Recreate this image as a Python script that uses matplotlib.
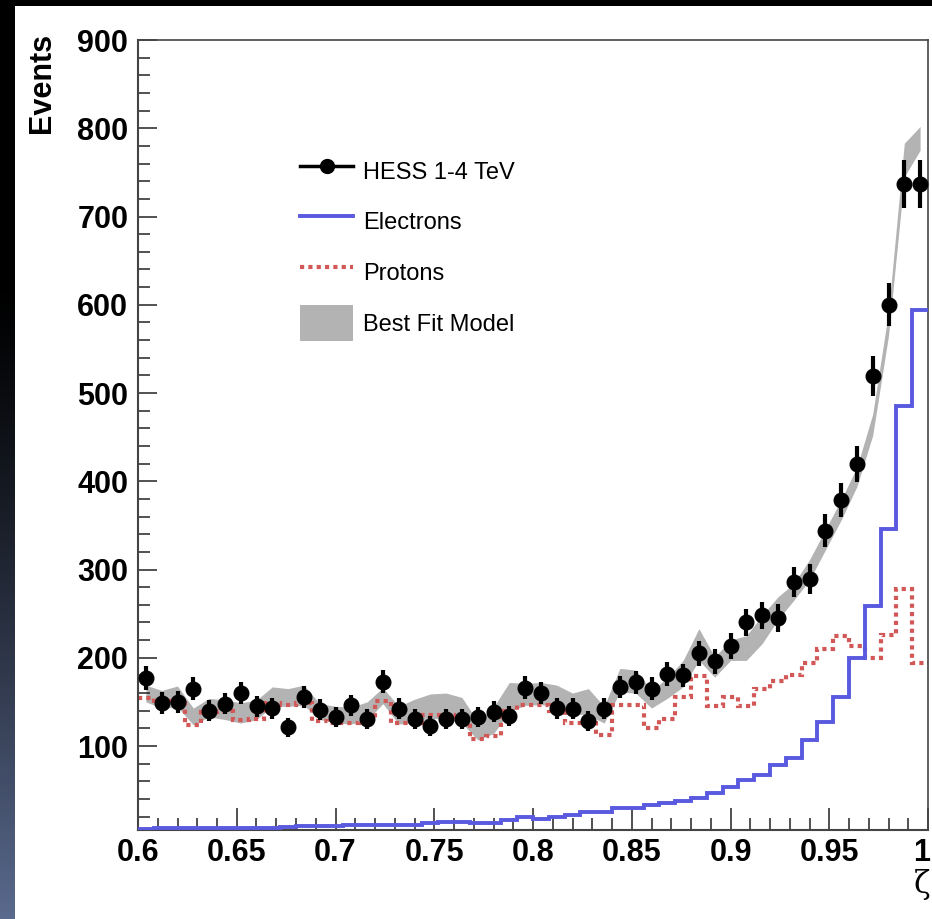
import numpy as np
import matplotlib
matplotlib.use('Agg')
import matplotlib.pyplot as plt
import matplotlib.transforms as mtransforms
from matplotlib.lines import Line2D
from matplotlib.patches import Patch
from matplotlib.ticker import MultipleLocator, FuncFormatter

# 50 bins in zeta between 0.6 and 1.0
zeta_edges = np.round(0.6 + 0.008 * np.arange(51), 3)
zeta_centers = (zeta_edges[:-1] + zeta_edges[1:]) / 2

hess = [177, 149, 150, 165, 140, 148, 160, 145, 143, 121,
        156, 141, 133, 146, 131, 173, 142, 131, 123, 131,
        131, 133, 139, 134, 166, 160, 143, 142, 128, 142,
        167, 172, 165, 182, 180, 205, 196, 213, 240, 248,
        245, 286, 289, 344, 379, 420, 519, 600, 737, 737]
hess_err = [13.3, 12.2, 12.2, 12.8, 11.8, 12.2, 12.6, 12.0, 11.9, 11.0,
            12.5, 11.9, 11.5, 12.1, 11.4, 13.1, 11.9, 11.4, 11.1, 11.5,
            11.4, 11.5, 11.8, 11.6, 12.9, 12.6, 11.9, 11.9, 11.3, 11.9,
            12.9, 13.1, 12.8, 13.5, 13.4, 14.3, 14.0, 14.6, 15.5, 15.7,
            15.6, 16.9, 17.0, 18.5, 19.5, 20.5, 22.8, 24.5, 27.1, 27.1]

electrons = [5.5, 7.3, 7.3, 7.3, 7.3, 7.3, 7.3, 7.3, 7.3, 8.0,
             9.2, 9.2, 9.2, 10.7, 10.7, 10.7, 10.7, 10.7, 13.0, 14.4,
             14.4, 12.2, 12.2, 16.3, 19.0, 17.8, 19.7, 21.9, 25.3, 25.3,
             29.8, 29.8, 32.8, 35.8, 37.3, 40.7, 47.0, 53.5, 61.5, 67.0,
             78.5, 86.0, 106.8, 126.8, 155.8, 199.2, 259.0, 345.7, 485.0, 594.0]

protons = [154, 146, 151, 124, 138, 140, 130, 131, 149, 147,
           149, 128, 126, 126, 129, 151, 126, 126, 135, 135,
           130, 108, 111, 140, 147, 146, 140, 126, 126, 112,
           146, 146, 120, 131, 156, 179, 145, 155, 145, 165,
           174, 180, 194, 210, 225, 213, 200, 226, 278, 194]

fit_lo = [150, 143, 144, 124, 133, 130, 126, 130, 145, 145,
          146, 130, 126, 125, 129, 148, 125, 126, 131, 131,
          126, 107, 114, 139, 146, 147, 144, 137, 135, 126,
          161, 160, 143, 154, 167, 197, 178, 197, 197, 216,
          243, 265, 288, 322, 356, 394, 452, 565, 745, 775]
fit_hi = [169, 163, 168, 143, 154, 152, 149, 152, 167, 165,
          169, 148, 145, 144, 150, 166, 145, 153, 159, 160,
          155, 128, 144, 172, 171, 172, 169, 160, 165, 145,
          188, 186, 163, 177, 197, 233, 201, 220, 225, 248,
          269, 284, 311, 345, 379, 416, 476, 592, 783, 802]

labels = ['HESS 1-4 TeV', 'Electrons', 'Protons', 'Best Fit Model']

blue = '#5a5ae0'
red = '#d25858'
grey = '#b3b3b3'
font = 'Liberation Sans'

fig = plt.figure(figsize=(9.32, 9.19), dpi=100)
fig.patch.set_facecolor('white')

# dark border strips of the slide
strip = fig.add_axes([0, 0, 15 / 932, 1])
grad = np.clip((np.linspace(0, 1, 256) - 0.3) / 0.7, 0, 1) ** 1.3
rgb = np.array([0x5a, 0x6a, 0x8e]) / 255.0
img = grad[:, None, None] * rgb[None, None, :]
strip.imshow(img, aspect='auto', extent=[0, 1, 0, 1])
strip.axis('off')
top = fig.add_axes([0, 1 - 6 / 919, 1, 6 / 919])
top.axis('off')
top.add_patch(plt.Rectangle((0, 0), 1, 1, color='black', transform=top.transAxes))

ax = fig.add_axes([138 / 932, (919 - 829.5) / 919, (928 - 138) / 932, (829.5 - 40) / 919])

ax.fill_between(zeta_centers, fit_lo, fit_hi, color=grey, lw=0, zorder=1)
ax.stairs(protons, zeta_edges, baseline=None, color=red, lw=3,
          linestyle=(0, (1, 1)), zorder=2)
ax.stairs(electrons, zeta_edges, baseline=None, color=blue, lw=2.8, zorder=3)
ax.errorbar(zeta_centers, hess, yerr=hess_err, fmt='o', color='black', ms=10.5,
            elinewidth=3, capsize=0, zorder=4)

ax.set_xlim(0.6, 1.0)
ax.set_ylim(5.4, 900)

ax.xaxis.set_major_locator(MultipleLocator(0.05))
ax.xaxis.set_minor_locator(MultipleLocator(0.01))
ax.yaxis.set_major_locator(MultipleLocator(100))
ax.yaxis.set_minor_locator(MultipleLocator(20))
ax.xaxis.set_major_formatter(FuncFormatter(lambda v, p: '%g' % round(v, 2)))

for s in ['top', 'right']:
    ax.spines[s].set_color('#444444')
    ax.spines[s].set_linewidth(1.2)
for s in ['left', 'bottom']:
    ax.spines[s].set_color('#444444')
    ax.spines[s].set_linewidth(1.5)

ax.tick_params(axis='x', which='major', direction='in', length=16, width=1.1,
               color='#222222', pad=6)
ax.tick_params(axis='x', which='minor', direction='in', length=8.5, width=1.1,
               color='#222222')
ax.tick_params(axis='y', which='major', direction='in', length=14, width=1.1,
               color='#222222', pad=7)
ax.tick_params(axis='y', which='minor', direction='in', length=8.5, width=1.1,
               color='#222222')
fig.canvas.draw()
for lab in ax.get_xticklabels() + ax.get_yticklabels():
    lab.set_fontfamily(font)
    lab.set_fontweight('bold')
    lab.set_fontsize(22)
# keep the label at zeta = 1 inside the canvas
for lab in ax.get_xticklabels():
    if lab.get_text() == '1':
        lab.set_transform(lab.get_transform() +
                          mtransforms.ScaledTranslation(-6 / 100, 0, fig.dpi_scale_trans))

fig.text(42 / 932, 1 - 33 / 919, 'Events', rotation=90, ha='center', va='top',
         fontsize=22, fontweight='bold', family=font)
fig.text(922 / 932, 1 - 884 / 919, '\u03b6', ha='center', va='center',
         fontsize=22, family='DejaVu Serif')

handles = [
    Line2D([], [], color='black', marker='o', ms=10, lw=2.5),
    Line2D([], [], color=blue, lw=2.8),
    Line2D([], [], color=red, lw=3, linestyle=(0, (1, 1))),
    Patch(facecolor=grey, edgecolor='none'),
]
ax.legend(handles, labels, loc='upper left', bbox_to_anchor=(0.205, 0.857),
          frameon=False, borderpad=0, borderaxespad=0,
          handlelength=2.25, handletextpad=0.42, handleheight=2.0,
          labelspacing=0.6, prop={'family': font, 'size': 17})

fig.savefig('out.png', dpi=100)
